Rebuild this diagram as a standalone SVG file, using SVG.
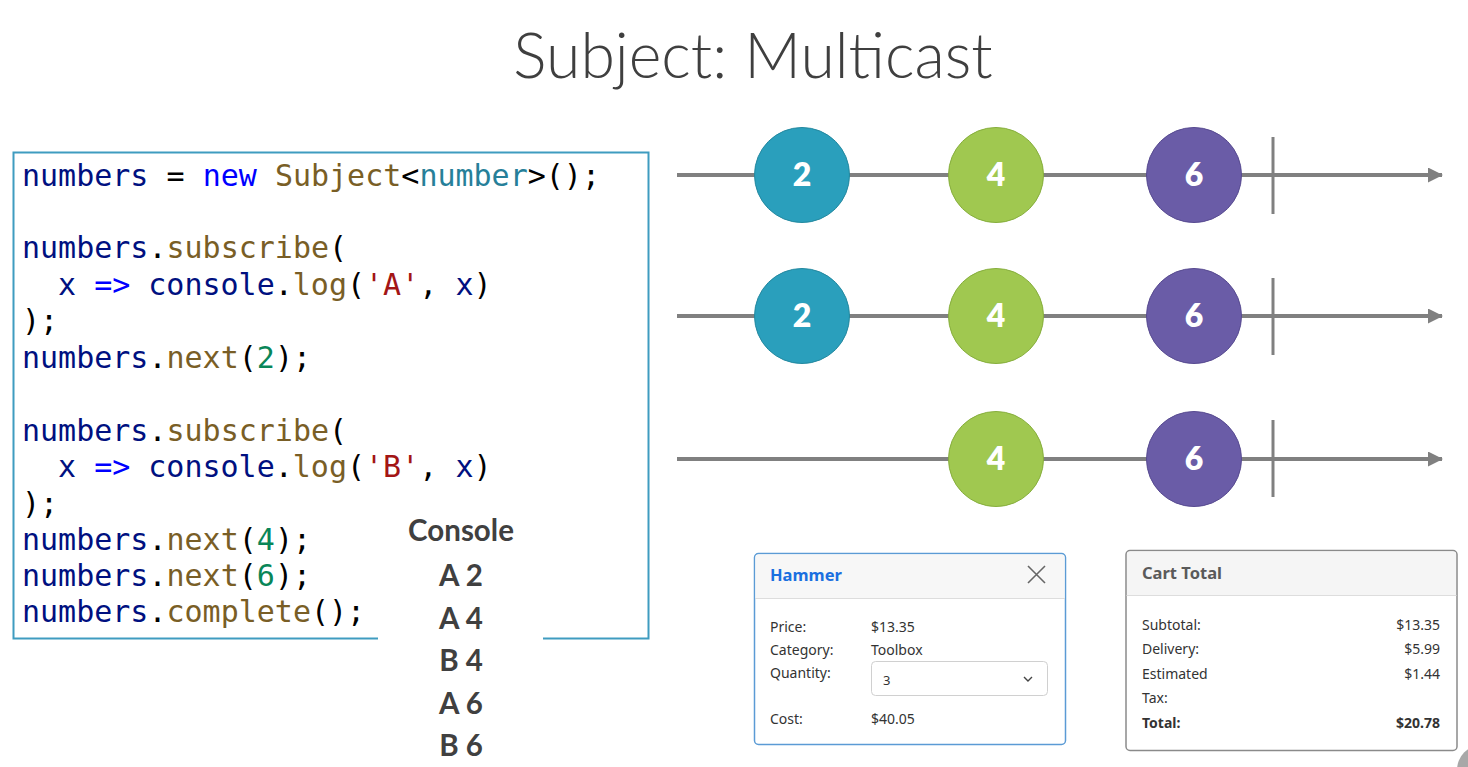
<svg xmlns="http://www.w3.org/2000/svg" width="1468" height="767" viewBox="0 0 1468 767">
<defs>
<style>
.title{font-family:Lato,"Open Sans",sans-serif;font-weight:300;font-size:62.5px;fill:#3f3f3f}
.code{font-family:"DejaVu Sans Mono","Liberation Mono",monospace;font-size:30px;fill:#000000}
.v{fill:#001080}.k{fill:#0000ff}.f{fill:#795e26}.t{fill:#267f99}.s{fill:#a31515}.n{fill:#098658}
.con{font-family:Lato,"Open Sans",sans-serif;font-weight:700;font-size:29.5px;fill:#404040;text-anchor:middle}
.line{stroke:#808080;stroke-width:4;fill:none}
.stop{stroke:#808080;stroke-width:3}
.m{font-family:Lato,"Open Sans",sans-serif;font-weight:800;font-size:32px;fill:#ffffff;text-anchor:middle}
.c2{fill:#2a9fbc;stroke:#23889f;stroke-width:1}
.c4{fill:#a0c850;stroke:#86ae3c;stroke-width:1}
.c6{fill:#6a5ca7;stroke:#574a90;stroke-width:1}
.ui{font-family:"Noto Sans","Open Sans",sans-serif;font-size:14px;fill:#333333}
.hd{font-family:"Noto Sans","Open Sans",sans-serif;font-size:16.5px;font-weight:700}
.r{text-anchor:end}
.b{font-weight:700}
</style>
<marker id="arr" viewBox="0 0 15 15" refX="14" refY="7.5" markerWidth="15" markerHeight="15" markerUnits="userSpaceOnUse" orient="auto">
<path d="M0,0 L15,7.5 L0,15 Z" fill="#808080"/>
</marker>
</defs>
<rect width="1468" height="767" fill="#ffffff"/>

<text class="title" x="753" y="78" text-anchor="middle">Subject: Multicast</text>

<g id="code-box">
<rect x="13.5" y="152.5" width="635" height="486" fill="#ffffff" stroke="#3f9cc0" stroke-width="2"/>
<text class="code" x="22" y="186"><tspan class="v">numbers</tspan> = <tspan class="k">new</tspan> <tspan class="f">Subject</tspan>&lt;<tspan class="t">number</tspan>&gt;();</text>
<text class="code" x="22" y="258"><tspan class="v">numbers</tspan>.<tspan class="f">subscribe</tspan>(</text>
<text class="code" x="58" y="295"><tspan class="v">x</tspan> <tspan class="k">=&gt;</tspan> <tspan class="v">console</tspan>.<tspan class="f">log</tspan>(<tspan class="s">'A'</tspan>, <tspan class="v">x</tspan>)</text>
<text class="code" x="22" y="331">);</text>
<text class="code" x="22" y="368"><tspan class="v">numbers</tspan>.<tspan class="f">next</tspan>(<tspan class="n">2</tspan>);</text>
<text class="code" x="22" y="441"><tspan class="v">numbers</tspan>.<tspan class="f">subscribe</tspan>(</text>
<text class="code" x="58" y="477"><tspan class="v">x</tspan> <tspan class="k">=&gt;</tspan> <tspan class="v">console</tspan>.<tspan class="f">log</tspan>(<tspan class="s">'B'</tspan>, <tspan class="v">x</tspan>)</text>
<text class="code" x="22" y="514">);</text>
<text class="code" x="22" y="550"><tspan class="v">numbers</tspan>.<tspan class="f">next</tspan>(<tspan class="n">4</tspan>);</text>
<text class="code" x="22" y="586"><tspan class="v">numbers</tspan>.<tspan class="f">next</tspan>(<tspan class="n">6</tspan>);</text>
<text class="code" x="22" y="622"><tspan class="v">numbers</tspan>.<tspan class="f">complete</tspan>();</text>
</g>

<g id="console">
<rect x="378" y="630" width="165" height="20" fill="#ffffff"/>
<text class="con" x="461" y="541">Console</text>
<text class="con" x="461" y="586">A 2</text>
<text class="con" x="461" y="629">A 4</text>
<text class="con" x="461" y="671">B 4</text>
<text class="con" x="461" y="714">A 6</text>
<text class="con" x="461" y="756">B 6</text>
</g>

<g id="connectors">
<line class="line" x1="677" y1="175" x2="1442" y2="175" marker-end="url(#arr)"/>
<line class="line" x1="677" y1="316" x2="1442" y2="316" marker-end="url(#arr)"/>
<line class="line" x1="677" y1="459" x2="1442" y2="459" marker-end="url(#arr)"/>
<line class="stop" x1="1273" y1="137" x2="1273" y2="214"/>
<line class="stop" x1="1273" y1="278" x2="1273" y2="355"/>
<line class="stop" x1="1273" y1="420" x2="1273" y2="497"/>
</g>

<g id="r1-2"><circle class="c2" cx="802" cy="175" r="47.5"/><text class="m" x="802" y="186">2</text></g>
<g id="r1-4"><circle class="c4" cx="996" cy="175" r="47.5"/><text class="m" x="996" y="186">4</text></g>
<g id="r1-6"><circle class="c6" cx="1194" cy="175" r="47.5"/><text class="m" x="1194" y="186">6</text></g>
<g id="r2-2"><circle class="c2" cx="802" cy="316" r="47.5"/><text class="m" x="802" y="327">2</text></g>
<g id="r2-4"><circle class="c4" cx="996" cy="316" r="47.5"/><text class="m" x="996" y="327">4</text></g>
<g id="r2-6"><circle class="c6" cx="1194" cy="316" r="47.5"/><text class="m" x="1194" y="327">6</text></g>
<g id="r3-4"><circle class="c4" cx="996" cy="459" r="47.5"/><text class="m" x="996" y="470">4</text></g>
<g id="r3-6"><circle class="c6" cx="1194" cy="459" r="47.5"/><text class="m" x="1194" y="470">6</text></g>

<g id="hammer-card">
<rect x="754.5" y="553.5" width="311" height="191" rx="4" fill="#ffffff" stroke="#5b9bd5" stroke-width="1.5"/>
<path d="M755.5,598 V558 a3.5,3.5 0 0 1 3.5,-3.5 H1061 a3.5,3.5 0 0 1 3.5,3.5 V598 Z" fill="#f7f7f7"/>
<line x1="755" y1="598.5" x2="1065" y2="598.5" stroke="#dddddd" stroke-width="1"/>
<text class="hd" x="770" y="581" fill="#1a6fe0">Hammer</text>
<path d="M1028,566 L1045,583 M1045,566 L1028,583" stroke="#666666" stroke-width="1.6"/>
<text class="ui" x="770" y="632">Price:</text><text class="ui" x="871" y="632">$13.35</text>
<text class="ui" x="770" y="655">Category:</text><text class="ui" x="871" y="655">Toolbox</text>
<text class="ui" x="770" y="678">Quantity:</text>
<rect x="871.5" y="661.5" width="176" height="34" rx="4" fill="#ffffff" stroke="#d0d0d0" stroke-width="1"/>
<text class="ui" x="883" y="685" style="font-size:13px">3</text>
<path d="M1024,677 L1028,681 L1032,677" stroke="#444444" stroke-width="1.4" fill="none"/>
<text class="ui" x="770" y="724">Cost:</text><text class="ui" x="871" y="724">$40.05</text>
</g>

<g id="cart-total">
<rect x="1126" y="550.5" width="331" height="200" rx="4" fill="#ffffff" stroke="#8a8a8a" stroke-width="1.5"/>
<path d="M1127,595 V555 a3.5,3.5 0 0 1 3.5,-3.5 H1452.5 a3.5,3.5 0 0 1 3.5,3.5 V595 Z" fill="#f5f5f5"/>
<line x1="1126.5" y1="595.5" x2="1456.5" y2="595.5" stroke="#dddddd" stroke-width="1"/>
<text class="hd" x="1142" y="579" fill="#5a5a5a">Cart Total</text>
<text class="ui" x="1142" y="630">Subtotal:</text><text class="ui r" x="1440" y="630">$13.35</text>
<text class="ui" x="1142" y="654">Delivery:</text><text class="ui r" x="1440" y="654">$5.99</text>
<text class="ui" x="1142" y="679">Estimated</text><text class="ui r" x="1440" y="679">$1.44</text>
<text class="ui" x="1142" y="703">Tax:</text>
<text class="ui b" x="1142" y="728">Total:</text><text class="ui r b" x="1440" y="728">$20.78</text>
</g>

<circle cx="1482" cy="770" r="25" fill="#a8a8a8"/>
</svg>
